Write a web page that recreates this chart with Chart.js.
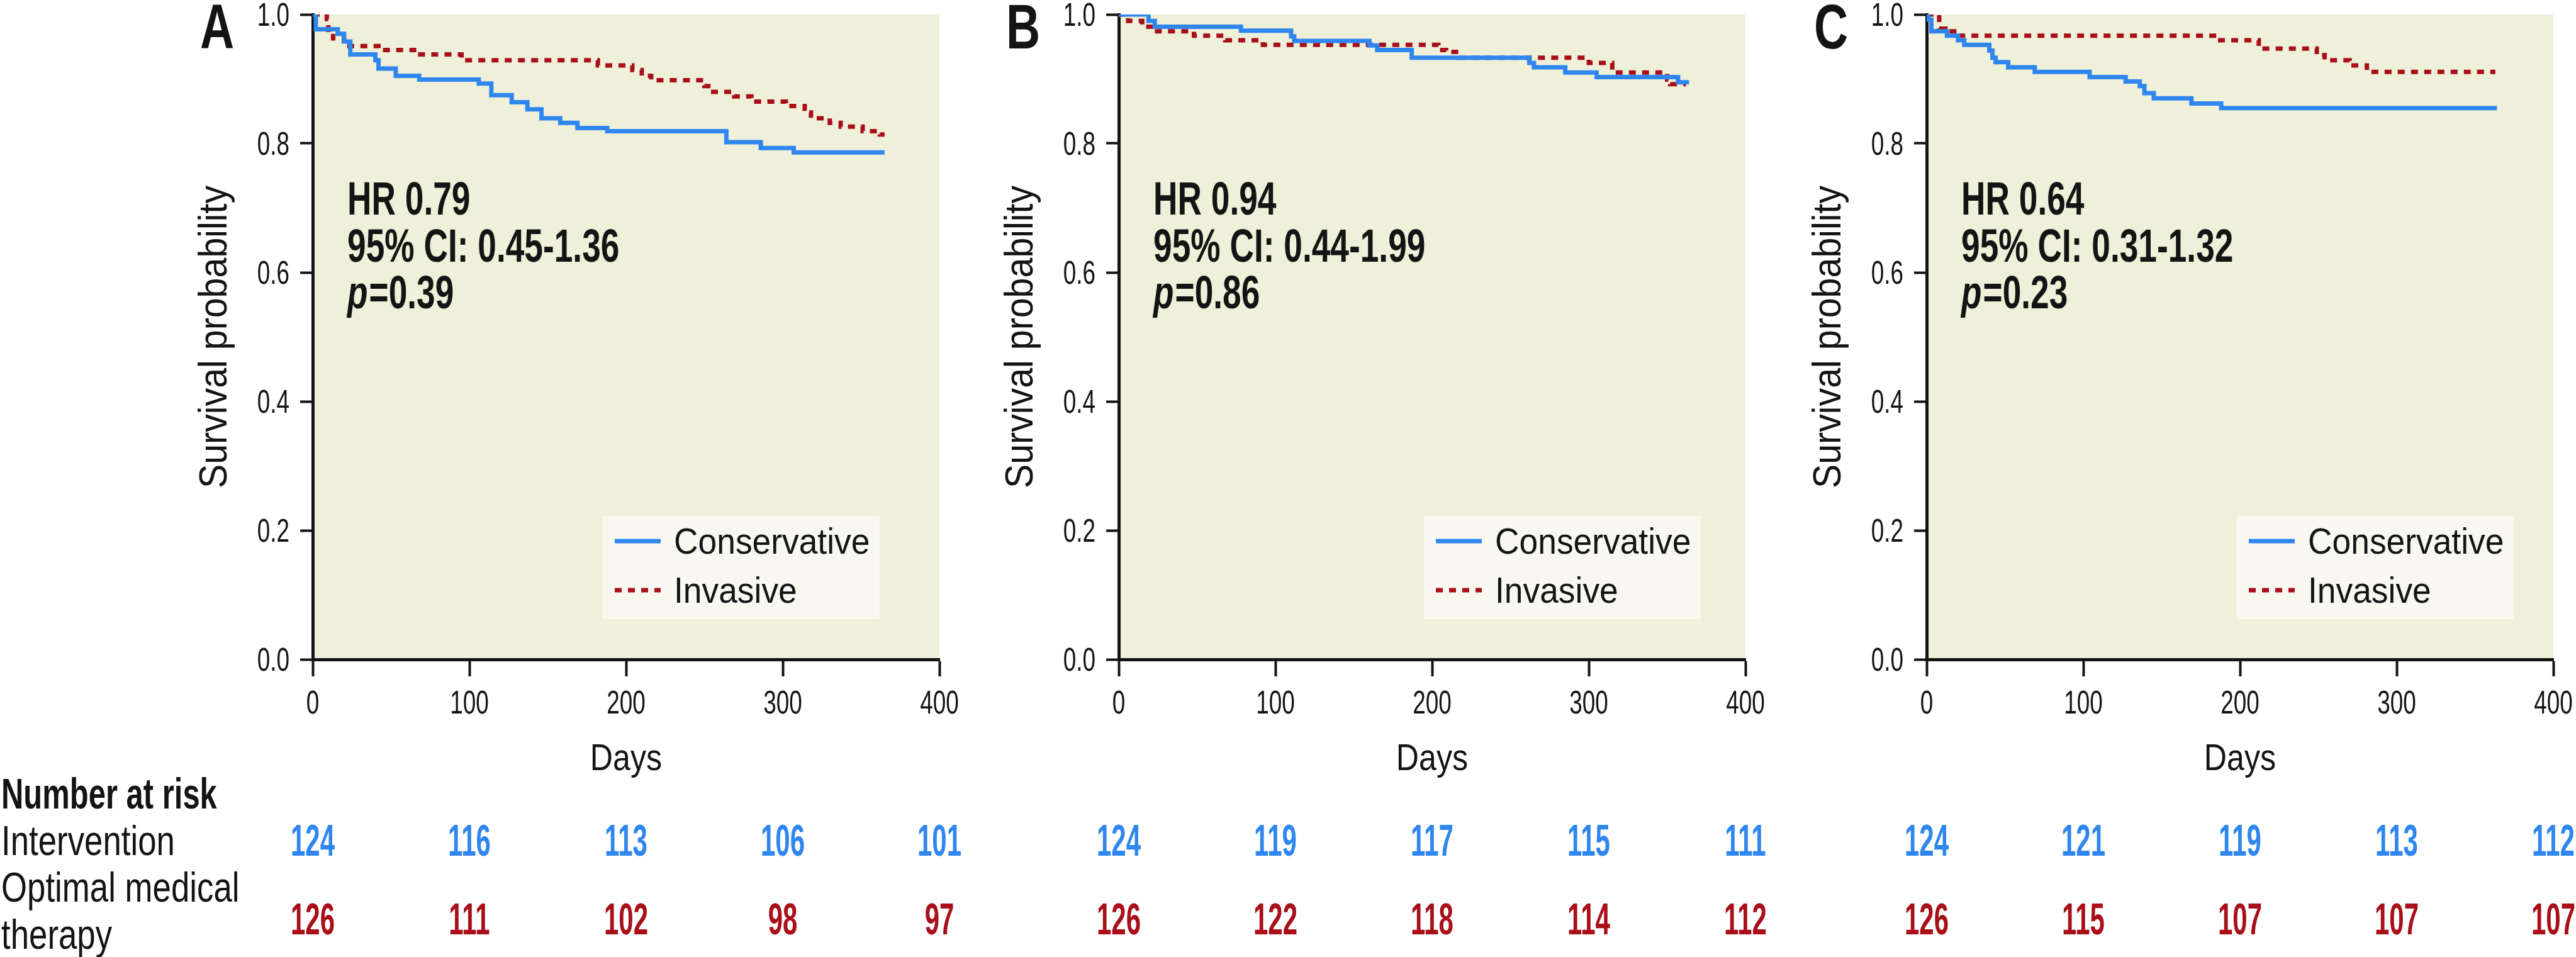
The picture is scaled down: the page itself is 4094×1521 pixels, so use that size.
<!DOCTYPE html>
<html>
<head>
<meta charset="utf-8">
<title>Survival curves</title>
<script src="https://cdn.jsdelivr.net/npm/chart.js@4.4.1/dist/chart.umd.min.js"></script>
<style>
  html, body { margin: 0; padding: 0; background: #fff; }
  body { width: 4094px; height: 1521px; position: relative; overflow: hidden; }
  .panel { position: absolute; top: 0; width: 1530px; height: 1521px; }
</style>
</head>
<body>
<div class="panel" style="left:0px"><canvas id="chartA" width="1530" height="1521"></canvas></div>
<div class="panel" style="left:1281px"><canvas id="chartB" width="1530" height="1521"></canvas></div>
<div class="panel" style="left:2565px"><canvas id="chartC" width="1530" height="1521"></canvas></div>
<script>
// axis ticks
const xTicks = [0, 100, 200, 300, 400];
const yTicks = [0, 0.2, 0.4, 0.6, 0.8, 1.0];

// panel A
const aConsDays = [0, 2, 16, 20, 24, 40, 42, 53, 68, 106, 114, 127, 137, 146, 158, 169, 188, 264, 286, 307, 365];
const aConsSurv = [1.0, 0.977, 0.970, 0.958, 0.938, 0.929, 0.916, 0.905, 0.899, 0.893, 0.875, 0.864, 0.853, 0.839, 0.832, 0.824, 0.819, 0.802, 0.793, 0.786, 0.786];
const aInvDays = [0, 9, 10, 13, 20, 42, 67, 95, 182, 204, 210, 216, 250, 254, 269, 280, 302, 314, 318, 330, 337, 351, 362, 365];
const aInvSurv = [1.0, 0.993, 0.972, 0.963, 0.951, 0.945, 0.938, 0.929, 0.921, 0.914, 0.905, 0.898, 0.889, 0.880, 0.873, 0.865, 0.858, 0.848, 0.839, 0.832, 0.826, 0.819, 0.814, 0.814];
const aStats = ['HR 0.79', '95% CI: 0.45-1.36', '0.39'];
const aRiskInt = [124, 116, 113, 106, 101];
const aRiskOmt = [126, 111, 102, 98, 97];

// panel B
const bConsDays = [0, 19, 23, 78, 110, 112, 160, 165, 187, 262, 265, 285, 305, 357, 364];
const bConsSurv = [1.0, 0.990, 0.981, 0.975, 0.966, 0.959, 0.952, 0.945, 0.933, 0.925, 0.918, 0.910, 0.903, 0.895, 0.895];
const bInvDays = [0, 6, 15, 23, 48, 68, 92, 204, 209, 217, 300, 315, 350, 352, 362];
const bInvSurv = [1.0, 0.990, 0.981, 0.974, 0.967, 0.960, 0.953, 0.945, 0.942, 0.933, 0.925, 0.910, 0.899, 0.892, 0.892];
const bStats = ['HR 0.94', '95% CI: 0.44-1.99', '0.86'];
const bRiskInt = [124, 119, 117, 115, 111];
const bRiskOmt = [126, 122, 118, 114, 112];

// panel C
const cConsDays = [0, 1, 3, 13, 20, 24, 40, 42, 44, 52, 69, 104, 127, 136, 139, 145, 169, 188, 364];
const cConsSurv = [1.0, 0.992, 0.974, 0.967, 0.960, 0.953, 0.944, 0.933, 0.926, 0.918, 0.911, 0.903, 0.896, 0.889, 0.878, 0.870, 0.862, 0.855, 0.855];
const cInvDays = [0, 8, 12, 21, 185, 212, 249, 254, 270, 281, 363];
const cInvSurv = [1.0, 0.978, 0.974, 0.967, 0.960, 0.947, 0.937, 0.929, 0.921, 0.911, 0.911];
const cStats = ['HR 0.64', '95% CI: 0.31-1.32', '0.23'];
const cRiskInt = [124, 121, 119, 113, 112];
const cRiskOmt = [126, 115, 107, 107, 107];

const BLUE = '#2f86ef';
const RED = '#a80f19';
const BEIGE = '#eff0d9';
const LEGEND_BG = '#f8f8f1';
const INK = '#141414';
const FONT = "'Liberation Sans', Arial, Helvetica, sans-serif";

// the original uses a condensed face, so squeeze the text horizontally
function drawText(ctx, str, x, y, o) {
  ctx.save();
  ctx.translate(x, y);
  if (o.rotate) ctx.rotate(o.rotate);
  ctx.scale(o.sx || 1, 1);
  ctx.font = (o.style || 'normal') + ' ' + (o.weight || 400) + ' ' + o.size + 'px ' + FONT;
  ctx.fillStyle = o.color || INK;
  ctx.textAlign = o.align || 'left';
  ctx.textBaseline = 'alphabetic';
  ctx.fillText(str, 0, 0);
  const w = ctx.measureText(str).width * (o.sx || 1);
  ctx.restore();
  return w;
}

const toPoints = (days, surv) => days.map((d, i) => ({ x: d, y: surv[i] }));

function panelPlugin(p) {
  return {
    id: 'km' + p.letter,
    beforeDraw(chart) {
      const a = chart.chartArea, ctx = chart.ctx;
      ctx.save();
      ctx.fillStyle = BEIGE;
      ctx.fillRect(a.left, a.top, a.right - a.left, a.bottom - a.top);
      ctx.restore();
    },
    afterDraw(chart) {
      const ctx = chart.ctx, a = chart.chartArea;
      const xs = chart.scales.x, ys = chart.scales.y;

      // tick labels
      ys.ticks.forEach(t => drawText(ctx, t.value.toFixed(1), a.left - 37, ys.getPixelForValue(t.value) + 18,
        { size: 52, sx: 0.71, align: 'right' }));
      xs.ticks.forEach(t => drawText(ctx, String(t.value), xs.getPixelForValue(t.value), 1134,
        { size: 52, sx: 0.71, align: 'center' }));

      // axis titles and panel letter
      drawText(ctx, 'Days', (a.left + a.right) / 2, 1224, { size: 59, sx: 0.85, align: 'center' });
      drawText(ctx, 'Survival probability', a.left - 137, (a.top + a.bottom) / 2,
        { size: 63, sx: 0.91, align: 'center', rotate: -Math.PI / 2 });
      drawText(ctx, p.letter, a.left - 179, 77, { size: 100, weight: 700, sx: 0.75 });

      // hazard ratio block
      const tx = a.left + 55;
      const bold = { size: 74, weight: 700, sx: 0.72 };
      drawText(ctx, p.stats[0], tx, 341, bold);
      drawText(ctx, p.stats[1], tx, 416, bold);
      const pw = drawText(ctx, 'p', tx, 490, { ...bold, style: 'italic' });
      drawText(ctx, '=' + p.stats[2], tx + pw + 2, 490, bold);

      // legend
      const lx = a.left + p.legendLeft, ly = 820;
      ctx.save();
      ctx.fillStyle = LEGEND_BG;
      ctx.fillRect(lx, ly, 440, 164);
      chart.data.datasets.forEach((ds, i) => {
        const yy = i === 0 ? 860 : 938;
        ctx.beginPath();
        ctx.strokeStyle = ds.borderColor;
        ctx.lineWidth = 7;
        ctx.setLineDash(ds.borderDash || []);
        ctx.moveTo(lx + 19, yy);
        ctx.lineTo(lx + 92, yy);
        ctx.stroke();
        ctx.setLineDash([]);
        drawText(ctx, ds.label, lx + 113, yy + 20, { size: 58, sx: 0.92 });
      });
      ctx.restore();

      // number at risk
      xTicks.forEach((d, i) => {
        const x = xs.getPixelForValue(d);
        drawText(ctx, String(p.riskInt[i]), x, 1360, { size: 70, weight: 700, sx: 0.6, align: 'center', color: BLUE });
        drawText(ctx, String(p.riskOmt[i]), x, 1485, { size: 70, weight: 700, sx: 0.6, align: 'center', color: RED });
      });
      if (p.rowLabels) {
        drawText(ctx, 'Number at risk', 2, 1285, { size: 68, weight: 700, sx: 0.72 });
        drawText(ctx, 'Intervention', 2, 1359, { size: 66, sx: 0.8 });
        drawText(ctx, 'Optimal medical', 2, 1433, { size: 66, sx: 0.8 });
        drawText(ctx, 'therapy', 2, 1508, { size: 66, sx: 0.8 });
      }
    }
  };
}

function makeChart(id, p) {
  const axisCommon = {
    type: 'linear',
    ticks: { display: false },
    grid: { display: true, drawOnChartArea: false, drawTicks: true, tickWidth: 4, tickColor: INK },
    border: { display: true, width: 5, color: INK }
  };
  return new Chart(document.getElementById(id), {
    type: 'line',
    data: {
      datasets: [
        {
          label: 'Conservative',
          data: toPoints(p.consDays, p.consSurv),
          borderColor: BLUE,
          borderWidth: 7,
          stepped: 'before',
          pointRadius: 0,
          fill: false,
          borderCapStyle: 'butt'
        },
        {
          label: 'Invasive',
          data: toPoints(p.invDays, p.invSurv),
          borderColor: RED,
          borderWidth: 7,
          borderDash: [11, 10],
          stepped: 'before',
          pointRadius: 0,
          fill: false,
          borderCapStyle: 'butt'
        }
      ]
    },
    options: {
      responsive: false,
      animation: false,
      devicePixelRatio: 1,
      events: [],
      layout: { padding: { top: 23, right: 37, left: 0, bottom: 0 } },
      scales: {
        x: {
          ...axisCommon,
          min: 0, max: 400,
          grid: { ...axisCommon.grid, tickLength: 27 },
          afterBuildTicks: s => { s.ticks = xTicks.map(v => ({ value: v })); },
          afterFit: s => { s.height = 473; }
        },
        y: {
          ...axisCommon,
          min: 0, max: 1,
          grid: { ...axisCommon.grid, tickLength: 20 },
          afterBuildTicks: s => { s.ticks = yTicks.map(v => ({ value: v })); },
          afterFit: s => { s.width = 497; }
        }
      },
      plugins: {
        legend: { display: false },
        tooltip: { enabled: false }
      }
    },
    plugins: [panelPlugin(p)]
  });
}

makeChart('chartA', {
  letter: 'A', consDays: aConsDays, consSurv: aConsSurv, invDays: aInvDays, invSurv: aInvSurv,
  stats: aStats, riskInt: aRiskInt, riskOmt: aRiskOmt, legendLeft: 461, rowLabels: true
});
makeChart('chartB', {
  letter: 'B', consDays: bConsDays, consSurv: bConsSurv, invDays: bInvDays, invSurv: bInvSurv,
  stats: bStats, riskInt: bRiskInt, riskOmt: bRiskOmt, legendLeft: 485
});
makeChart('chartC', {
  letter: 'C', consDays: cConsDays, consSurv: cConsSurv, invDays: cInvDays, invSurv: cInvSurv,
  stats: cStats, riskInt: cRiskInt, riskOmt: cRiskOmt, legendLeft: 493
});
</script>
</body>
</html>
